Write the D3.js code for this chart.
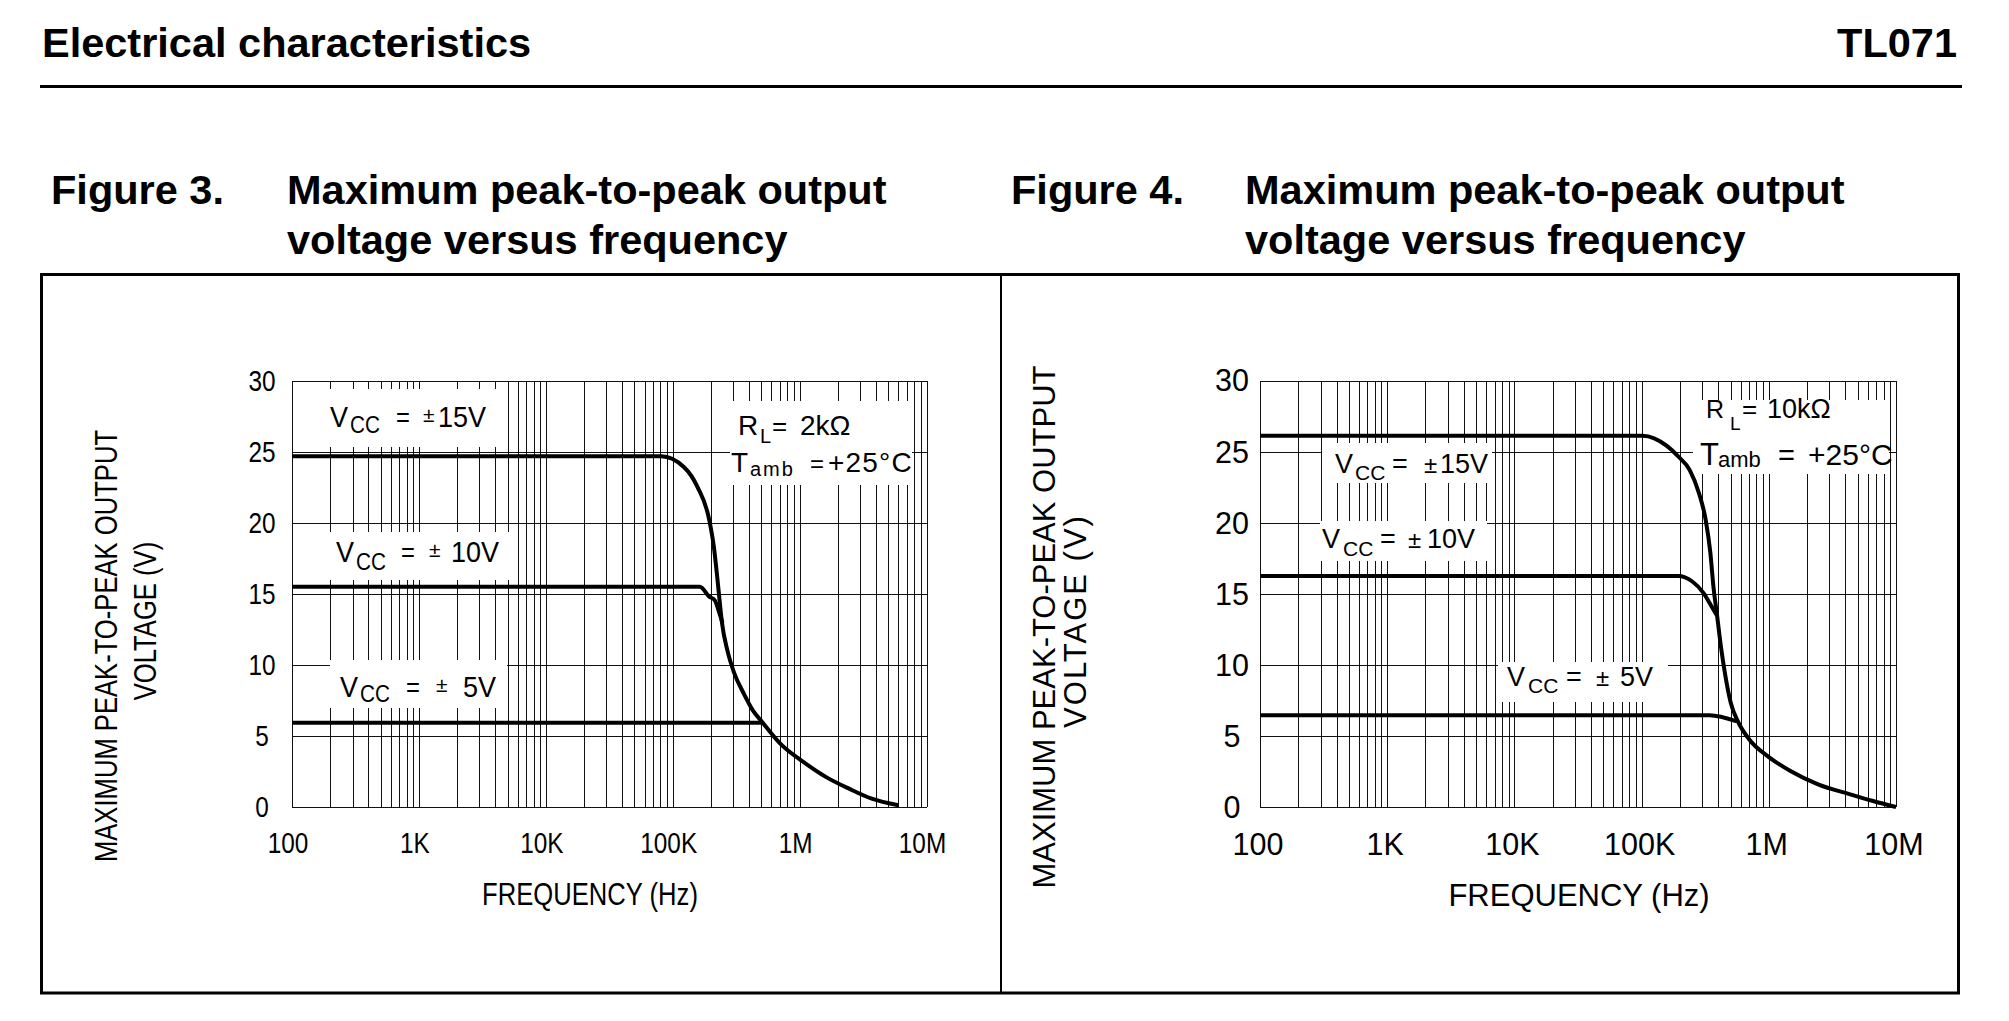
<!DOCTYPE html>
<html><head><meta charset="utf-8">
<script src="https://cdn.jsdelivr.net/npm/d3@7"></script>
<style>
body{margin:0;background:#fff}
svg{display:block}
text{font-family:"Liberation Sans",Arial,Helvetica,sans-serif;fill:#000}
</style>
</head><body>
<svg id="c" width="2009" height="1021"></svg>
<script>
// ---------- data ----------
const freqTicks = [100, 1e3, 1e4, 1e5, 1e6, 1e7];
const freqTickLabels = ["100", "1K", "10K", "100K", "1M", "10M"];
const voltTicks = [0, 5, 10, 15, 20, 25, 30];
const voltTickLabels = ["0", "5", "10", "15", "20", "25", "30"];

// Figure 3 : RL = 2 kOhm
const fig3Vcc15Freq = [100, 81e3, 123e3, 157e3, 194e3, 211e3, 223e3, 234e3, 245e3, 270e3, 306e3, 362e3, 428e3, 505e3, 704e3, 1.07e6, 1.62e6, 2.45e6, 3.7e6, 6.0e6];
const fig3Vcc15Volt = [24.67, 24.67, 23.9, 22.5, 20.2, 18.3, 16.4, 14.55, 12.9, 11.0, 9.4, 8.0, 6.8, 6.0, 4.46, 3.17, 2.1, 1.29, 0.59, 0.12];
const fig3Vcc10Freq = [100, 164e3, 194e3, 214e3, 234e3, 247e3];
const fig3Vcc10Volt = [15.5, 15.5, 14.8, 14.55, 13.6, 12.95];
const fig3Vcc5Freq = [100, 500e3];
const fig3Vcc5Volt = [5.93, 5.93];

// Figure 4 : RL = 10 kOhm
const fig4Vcc15Freq = [100, 102e3, 158e3, 194e3, 239e3, 282e3, 319e3, 347e3, 367e3, 393e3, 420e3, 456e3, 502e3, 570e3, 702e3, 978e3, 1.48e6, 2.44e6, 4.36e6, 6.6e6, 1e7];
const fig4Vcc15Volt = [26.12, 26.12, 25.4, 24.66, 23.7, 22.1, 20.2, 17.9, 15.5, 13.4, 11.3, 9.2, 7.33, 6.04, 4.75, 3.58, 2.53, 1.59, 0.89, 0.42, 0.0];
const fig4Vcc10Freq = [100, 194e3, 249e3, 306e3, 355e3, 392e3];
const fig4Vcc10Volt = [16.25, 16.25, 15.88, 15.06, 14.1, 13.45];
const fig4Vcc5Freq = [100, 341e3, 560e3];
const fig4Vcc5Volt = [6.45, 6.45, 6.02];

// ---------- drawing ----------
const svg = d3.select("#c");
svg.append("rect").attr("width", 2009).attr("height", 1021).attr("fill", "#fff");

function txt(parent, s, x, y, o = {}) {
  const t = parent.append("text")
    .attr("transform", `translate(${x},${y})` + (o.rot ? ` rotate(${o.rot})` : "") + (o.sx ? ` scale(${o.sx},1)` : ""))
    .attr("text-anchor", o.anchor || "start")
    .style("font-size", (o.size || 30) + "px")
    .text(s);
  if (o.bold) t.style("font-weight", "bold");
  if (o.ls) t.style("letter-spacing", o.ls + "px");
  if (o.dy) t.attr("dy", o.dy);
  return t;
}

// page header
txt(svg, "Electrical characteristics", 42, 57, {size: 41.5, bold: true});
txt(svg, "TL071", 1957, 57, {size: 41.5, bold: true, anchor: "end"});
svg.append("line").attr("x1", 40).attr("x2", 1962).attr("y1", 86.5).attr("y2", 86.5)
  .attr("stroke", "#000").attr("stroke-width", 3);

// figure titles
txt(svg, "Figure 3.", 51, 204, {size: 41.5, bold: true});
txt(svg, "Maximum peak-to-peak output", 287, 204, {size: 41.5, bold: true});
txt(svg, "voltage versus frequency", 287, 254, {size: 41.5, bold: true});
txt(svg, "Figure 4.", 1011, 204, {size: 41.5, bold: true});
txt(svg, "Maximum peak-to-peak output", 1245, 204, {size: 41.5, bold: true});
txt(svg, "voltage versus frequency", 1245, 254, {size: 41.5, bold: true});

// outer frame
svg.append("rect").attr("x", 41.5).attr("y", 274.5).attr("width", 1917).attr("height", 718.5)
  .attr("fill", "none").attr("stroke", "#000").attr("stroke-width", 3);
svg.append("line").attr("x1", 1001).attr("x2", 1001).attr("y1", 274).attr("y2", 993)
  .attr("stroke", "#000").attr("stroke-width", 2);

function gridValues() {
  const v = [];
  [100, 1e3, 1e4, 1e5, 1e6].forEach(d => { for (let k = 1; k <= 9; k++) v.push(k * d); });
  v.push(1e7);
  return v;
}

function drawFigure(cfg) {
  const x = d3.scaleLog().domain([100, 1e7]).range([cfg.x0, cfg.x1]);
  const y = d3.scaleLinear().domain([0, 30]).range([cfg.yb, cfg.yt]);
  const g = svg.append("g");
  const h = cfg.yb - cfg.yt, w = cfg.x1 - cfg.x0;

  // vertical grid via axis
  const gx = g.append("g").attr("transform", `translate(0,${cfg.yb})`)
    .call(d3.axisBottom(x).tickValues(gridValues()).tickSize(-h).tickFormat("").tickSizeOuter(0));
  gx.select(".domain").remove();
  gx.selectAll("line").attr("stroke", "#111").attr("stroke-width", 1).attr("shape-rendering", "crispEdges");
  // horizontal grid via axis
  const gy = g.append("g").attr("transform", `translate(${cfg.x0},0)`)
    .call(d3.axisLeft(y).tickValues(voltTicks).tickSize(-w).tickFormat("").tickSizeOuter(0));
  gy.select(".domain").remove();
  gy.selectAll("line").attr("stroke", "#111").attr("stroke-width", 1).attr("shape-rendering", "crispEdges");

  // label boxes (white backgrounds hiding grid)
  cfg.boxes.forEach(b => g.append("rect").attr("x", b[0]).attr("y", b[1]).attr("width", b[2] - b[0]).attr("height", b[3] - b[1]).attr("fill", "#fff"));

  // curves
  const line = d3.line().x(d => x(d[0])).y(d => y(d[1])).curve(d3.curveMonotoneX);
  cfg.series.forEach(s => {
    const pts = s[0].map((f, i) => [f, s[1][i]]);
    g.append("path").attr("d", line(pts)).attr("fill", "none").attr("stroke", "#000")
      .attr("stroke-width", 4).attr("stroke-linejoin", "round").attr("stroke-linecap", "butt");
  });

  // tick labels
  g.selectAll(".xl").data(freqTicks).enter().each(function (d, i) {
    txt(g, freqTickLabels[i], x(d) + cfg.xlDx, cfg.xlY, {size: cfg.tickSize, anchor: "middle", sx: cfg.sx});
  });
  g.selectAll(".yl").data(voltTicks).enter().each(function (d, i) {
    txt(g, voltTickLabels[i], cfg.ylX, y(d), {size: cfg.tickSize, anchor: "middle", sx: cfg.sx, dy: "0.36em"});
  });

  // axis titles
  txt(g, "FREQUENCY (Hz)", cfg.xtX, cfg.xtY, {size: cfg.titleSize, anchor: "middle", sx: cfg.sx});
  txt(g, "MAXIMUM PEAK-TO-PEAK OUTPUT", cfg.yt1[0], cfg.yt1[1], {size: cfg.titleSize, anchor: "middle", rot: -90, sx: cfg.sx});
  txt(g, "VOLTAGE (V)", cfg.yt2[0], cfg.yt2[1], {size: cfg.titleSize, anchor: "middle", rot: -90, sx: cfg.sx, ls: cfg.yt2[2]});

  // annotations
  cfg.notes.forEach(n => txt(g, n[0], n[1], n[2], {size: n[3], ls: n[4] || 0, sx: n[5] || null}));
}

drawFigure({
  x0: 292, x1: 926.5, yt: 380.5, yb: 807,
  sx: 0.84, tickSize: 29, titleSize: 30.5,
  xlDx: -4, xlY: 853, ylX: 262,
  xtX: 590, xtY: 905, yt1: [117, 646], yt2: [156, 621, 0],
  boxes: [[318, 389, 508, 447], [325, 532, 510, 580], [330, 660, 507, 708], [730, 401, 912, 485]],
  series: [[fig3Vcc15Freq, fig3Vcc15Volt], [fig3Vcc10Freq, fig3Vcc10Volt], [fig3Vcc5Freq, fig3Vcc5Volt]],
  notes: [
    ["V", 330, 427, 30, 0, 0.9], ["CC", 350, 433, 23, 0, 0.9], ["=", 396, 427, 28, 0, 0.85], ["\u00B1", 423, 422, 21], ["15V", 438, 427, 30, 0, 0.9],
    ["V", 336, 562, 30, 0, 0.9], ["CC", 356, 570, 23, 0, 0.9], ["=", 401, 562, 28, 0, 0.85], ["\u00B1", 429, 557, 21], ["10V", 451, 562, 30, 0, 0.9],
    ["V", 340, 697, 30, 0, 0.9], ["CC", 360, 702, 23, 0, 0.9], ["=", 406, 697, 28, 0, 0.85], ["\u00B1", 436, 692, 21], ["5V", 463, 697, 30, 0, 0.9],
    ["R", 738, 435, 28], ["L", 760, 443, 20], ["=", 772, 435, 26], ["2k\u03A9", 800, 435, 28],
    ["T", 731, 472, 28], ["amb", 750, 476, 20, 2], ["=", 810, 472, 24], ["+25\u00B0C", 828, 472, 28, 1.2]
  ]
});

drawFigure({
  x0: 1260, x1: 1896, yt: 380.5, yb: 807,
  sx: null, tickSize: 30.5, titleSize: 31,
  xlDx: -2, xlY: 855, ylX: 1232,
  xtX: 1579, xtY: 906, yt1: [1055, 627], yt2: [1086, 621, 2],
  boxes: [[1322, 443, 1492, 483], [1320, 521, 1487, 561], [1498, 662, 1668, 702], [1693, 400, 1889, 474]],
  series: [[fig4Vcc15Freq, fig4Vcc15Volt], [fig4Vcc10Freq, fig4Vcc10Volt], [fig4Vcc5Freq, fig4Vcc5Volt]],
  notes: [
    ["V", 1335, 473, 27], ["CC", 1355, 480, 21], ["=", 1392, 473, 27], ["\u00B1", 1424, 473, 24], ["15V", 1440, 473, 27],
    ["V", 1322, 548, 27], ["CC", 1343, 556, 21], ["=", 1380, 548, 27], ["\u00B1", 1408, 548, 24], ["10V", 1427, 548, 27],
    ["V", 1507, 686, 27], ["CC", 1528, 693, 21], ["=", 1566, 686, 27], ["\u00B1", 1596, 686, 24], ["5V", 1620, 686, 27],
    ["R", 1706, 418, 25], ["L", 1730, 430, 19], ["=", 1742, 418, 26], ["10k\u03A9", 1767, 418, 27],
    ["T", 1700, 465, 31], ["amb", 1718, 467, 22], ["=", 1778, 465, 29], ["+25\u00B0C", 1808, 465, 30]
  ]
});
</script>
</body></html>
